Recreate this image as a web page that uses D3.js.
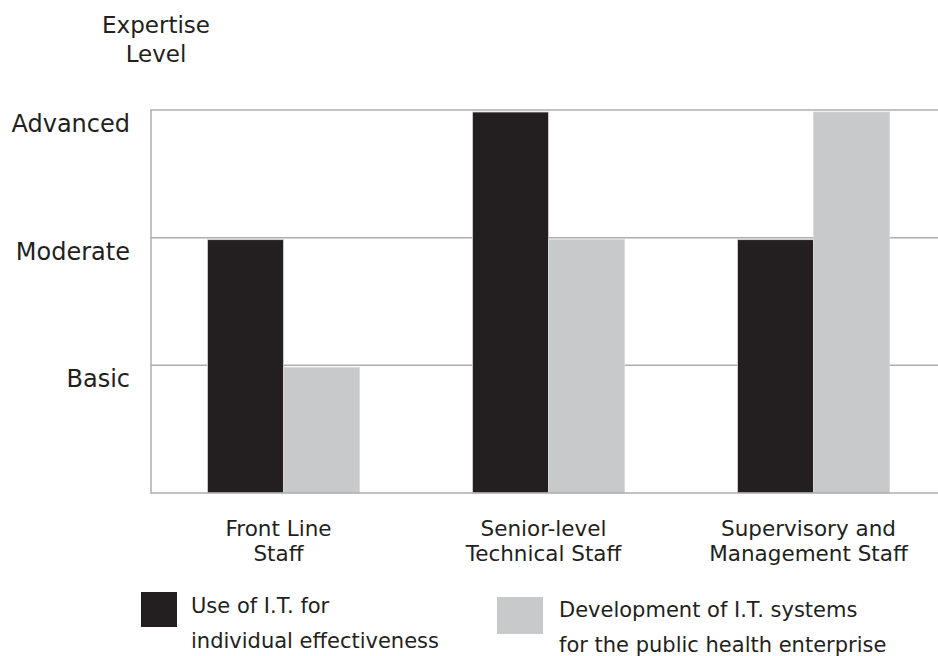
<!DOCTYPE html>
<html>
<head>
<meta charset="utf-8">
<script src="https://cdn.jsdelivr.net/npm/d3@7"></script>
<style>
  html, body { margin: 0; padding: 0; background: #fff; }
  svg { display: block; font-family: "DejaVu Sans", sans-serif; }
</style>
</head>
<body>
<svg id="chart" width="938" height="656"></svg>
<script>
// ---- data ----
const categories = [
  ["Front Line", "Staff"],
  ["Senior-level", "Technical Staff"],
  ["Supervisory and", "Management Staff"]
];
const seriesNames = [
  ["Use of I.T. for", "individual effectiveness"],
  ["Development of I.T. systems", "for the public health enterprise"]
];
const useIT = [2, 3, 2];          // Use of I.T. for individual effectiveness
const developIT = [1, 2, 3];      // Development of I.T. systems
const levelLabels = ["Basic", "Moderate", "Advanced"];
const levelValues = [1, 2, 3];
const axisTitle = ["Expertise", "Level"];

// ---- layout ----
const svg = d3.select("#chart");
const colors = ["#231f20", "#c8c9cb"];
const plot = { left: 151, right: 946, top: 110, bottom: 493 };

const catKeys = categories.map(c => c.join(" "));
const x = d3.scaleBand().domain(catKeys).range([plot.left, plot.right]).padding(0);
const bw = x.bandwidth();
const xSub = d3.scaleBand().domain([0, 1]).range([0, bw]).paddingInner(0).paddingOuter((bw - 152) / 2 / 76);
const y = d3.scaleLinear().domain([0, 3]).range([plot.bottom, plot.top]);

// gridlines
svg.append("g").selectAll("line").data(levelValues).join("line")
  .attr("x1", plot.left).attr("x2", 938)
  .attr("y1", d => y(d)).attr("y2", d => y(d))
  .attr("stroke", "#aeaeae").attr("stroke-width", 1.5);

// bars
const series = [useIT, developIT];
const g = svg.append("g");
catKeys.forEach((k, i) => {
  series.forEach((s, j) => {
    g.append("rect")
      .attr("x", x(k) + xSub(j))
      .attr("y", y(s[i]) + 2)
      .attr("width", xSub.bandwidth())
      .attr("height", y(0) - y(s[i]) - 2)
      .attr("fill", colors[j])
      .attr("stroke", "#d8d8d8").attr("stroke-width", 0.8);
  });
});

// axes lines
svg.append("line").attr("x1", plot.left).attr("x2", plot.left)
  .attr("y1", plot.top - 0.75).attr("y2", plot.bottom + 0.75)
  .attr("stroke", "#aeaeae").attr("stroke-width", 1.5);
svg.append("line").attr("x1", plot.left).attr("x2", 938)
  .attr("y1", plot.bottom).attr("y2", plot.bottom)
  .attr("stroke", "#aeaeae").attr("stroke-width", 1.5);

// y labels
svg.append("g").selectAll("text").data(levelValues).join("text")
  .attr("x", 130).attr("y", d => y(d) + 22)
  .attr("text-anchor", "end")
  .attr("font-size", 24).attr("fill", "#231f20")
  .text((d, i) => levelLabels[i]);

// axis title
svg.append("text").attr("text-anchor", "middle").attr("font-size", 23).attr("fill", "#231f20")
  .selectAll("tspan").data(axisTitle).join("tspan")
  .attr("x", 156).attr("y", (d, i) => 33 + i * 29).text(d => d);

// category labels
categories.forEach((c, i) => {
  svg.append("text").attr("text-anchor", "middle").attr("font-size", 21.5).attr("fill", "#231f20")
    .selectAll("tspan").data(c).join("tspan")
    .attr("x", x(catKeys[i]) + bw / 2 - 5)
    .attr("y", (d, k) => 536 + k * 25).text(d => d);
});

// legend
const legend = [
  { sx: 141, sy: 592, sw: 36, sh: 35, tx: 191, ty: 613 },
  { sx: 497, sy: 597, sw: 46, sh: 37, tx: 559, ty: 617 }
];
legend.forEach((l, j) => {
  svg.append("rect").attr("x", l.sx).attr("y", l.sy).attr("width", l.sw).attr("height", l.sh)
    .attr("fill", colors[j]);
  svg.append("text").attr("font-size", 21).attr("fill", "#231f20")
    .selectAll("tspan").data(seriesNames[j]).join("tspan")
    .attr("x", l.tx).attr("y", (d, k) => l.ty + k * 34.5).text(d => d);
});
</script>
</body>
</html>
